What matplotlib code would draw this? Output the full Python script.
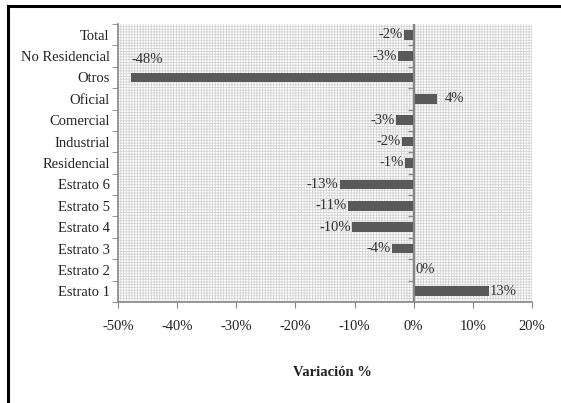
import matplotlib
matplotlib.use("Agg")
import matplotlib.pyplot as plt
from matplotlib.lines import Line2D
from matplotlib.patches import Rectangle
from matplotlib.ticker import FuncFormatter, FixedLocator

plt.rcParams['font.family'] = ['Liberation Serif', 'DejaVu Serif']
plt.rcParams['axes.unicode_minus'] = False
plt.rcParams['hatch.linewidth'] = 0.6

# categories from bottom to top
categorias = ["Estrato 1", "Estrato 2", "Estrato 3", "Estrato 4", "Estrato 5",
              "Estrato 6", "Residencial", "Industrial", "Comercial", "Oficial",
              "Otros", "No Residencial", "Total"]
variacion = [12.7, 0.0, -3.7, -10.4, -11.1, -12.5, -1.4, -2.0, -3.0, 3.9,
             -47.8, -2.6, -1.7]
etiquetas = ["13%", "0%", "-4%", "-10%", "-11%", "-13%", "-1%", "-2%", "-3%",
             "4%", "-48%", "-3%", "-2%"]

gris = '#868686'

fig = plt.figure(figsize=(5.61, 4.03), dpi=100)
ax = fig.add_axes([118/561, 1-302/403, 414/561, 278/403])

# fine grid pattern of the plot area
fondo = Rectangle((0, 0), 1, 1, transform=ax.transAxes, facecolor='white',
                  edgecolor='#d4d4d4', hatch='++++++', lw=0, zorder=0)
ax.add_patch(fondo)

y = list(range(len(categorias)))
ax.barh(y, variacion, height=0.45, color='#595959', zorder=3)

ax.set_xlim(-50, 20)
ax.set_ylim(-0.5, len(categorias) - 0.5)

# zero axis line with its ticks
ax.axvline(0, color=gris, lw=1.5, zorder=4)
bordes = [i + 0.5 for i in range(len(categorias) - 1)]
ax.plot([0]*len(bordes), bordes, linestyle='none', marker=0, markersize=4,
        markeredgewidth=1, color=gris, zorder=4)

for yi, v, t in zip(y, variacion, etiquetas):
    if t == "-48%":
        ax.annotate(t, (v, yi), xytext=(0, 8), textcoords='offset points',
                    ha='left', va='bottom', fontsize=10.5, color='#333333')
    elif v < 0:
        ax.annotate(t, (v, yi), xytext=(-1, 0), textcoords='offset points',
                    ha='right', va='center', fontsize=10.5, color='#333333')
    elif t == "4%":
        ax.annotate(t, (v, yi), xytext=(6, 0), textcoords='offset points',
                    ha='left', va='center', fontsize=10.5, color='#333333')
    else:
        ax.annotate(t, (v, yi), xytext=(1, 0), textcoords='offset points',
                    ha='left', va='center', fontsize=10.5, color='#333333')

ax.set_yticks(y)
ax.set_yticklabels(categorias, fontsize=10.5, color='#222222')
ax.yaxis.set_minor_locator(FixedLocator([i - 0.5 for i in range(len(categorias) + 1)]))
ax.tick_params(axis='y', which='major', length=0, pad=6)
ax.tick_params(axis='y', which='minor', length=4, color=gris, direction='out')

ax.set_xticks([-50, -40, -30, -20, -10, 0, 10, 20])
ax.xaxis.set_major_formatter(FuncFormatter(lambda v, p: f"{v:.0f}%"))
ax.tick_params(axis='x', length=4, color=gris, labelsize=10.5, labelcolor='#222222', pad=9)

for s in ['top', 'right']:
    ax.spines[s].set_visible(False)
for s in ['left', 'bottom']:
    ax.spines[s].set_color(gris)
    ax.spines[s].set_linewidth(1.2)

fig.text(332/561, 1-373/403, "Variación %", ha='center', va='center',
         fontsize=10.5, fontweight='bold', color='#222222')

# outer frame (left and top edges visible)
fig.add_artist(Line2D([8/561, 8/561], [0, 1-6/403], color='black', lw=2.2,
                      transform=fig.transFigure))
fig.add_artist(Line2D([8/561, 1], [1-6/403, 1-6/403], color='black', lw=2.2,
                      transform=fig.transFigure))

fig.savefig("out.png", dpi=100)
